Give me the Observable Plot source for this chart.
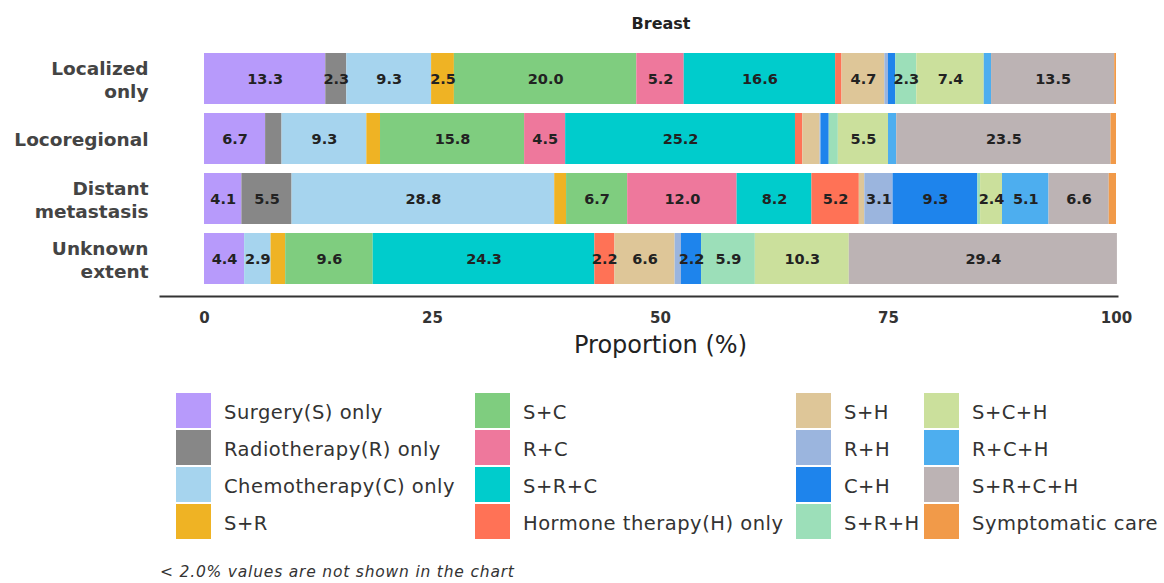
<!DOCTYPE html>
<html><head><meta charset="utf-8">
<script src="https://cdn.jsdelivr.net/npm/d3@7"></script>
<script src="https://cdn.jsdelivr.net/npm/@observablehq/plot@0.6"></script>
<style>
body{margin:0;background:#fff;font-family:"DejaVu Sans",sans-serif;width:1164px;height:583px;position:relative;overflow:hidden}
#title{position:absolute;left:661px;top:14px;transform:translateX(-50%);font-weight:bold;font-size:16px;color:#222}
#chart{position:absolute;left:0;top:40px}
.leg{position:absolute;display:flex;align-items:center;font-size:19.5px;letter-spacing:0.5px;color:#333;white-space:nowrap}
.sw{width:35px;height:35px;flex:none}
#note{position:absolute;left:160px;top:563px;font-style:italic;font-size:15.5px;letter-spacing:0.8px;color:#333}
</style></head>
<body>
<div id="title">Breast</div>
<div id="chart"></div>
<div id="legend"></div>
<div id="note">&lt; 2.0% values are not shown in the chart</div>
<script>
const stages = ["Localized only","Locoregional","Distant metastasis","Unknown extent"];
const stageLabels = ["Localized\nonly","Locoregional","Distant\nmetastasis","Unknown\nextent"];
const treatments = ["Surgery(S) only","Radiotherapy(R) only","Chemotherapy(C) only","S+R","S+C","R+C","S+R+C","Hormone therapy(H) only","S+H","R+H","C+H","S+R+H","S+C+H","R+C+H","S+R+C+H","Symptomatic care"];
const colors = ["#b79afb","#878787","#a6d4ee","#efb324","#7fcd7f","#ee789c","#00cccc","#ff7256","#dec698","#9bb5de","#1e84ec","#9cdfb9","#cbe09c","#4daeef","#bcb3b4","#f19a49"];
const localized    = [13.3,2.3,9.3,2.5,20.0,5.2,16.6,0.7,4.7,0.4,0.8,2.3,7.4,0.8,13.5,0.2];
const locoregional = [6.7,1.8,9.3,1.5,15.8,4.5,25.2,0.8,1.9,0.1,0.9,1.0,5.5,0.9,23.5,0.6];
const distant      = [4.1,5.5,28.8,1.3,6.7,12.0,8.2,5.2,0.6,3.1,9.3,0.3,2.4,5.1,6.6,0.8];
const unknown      = [4.4,0,2.9,1.6,9.6,0,24.3,2.2,6.6,0.7,2.2,5.9,10.3,0,29.4,0];
const xTicks = [0,25,50,75,100];

const series = [localized, locoregional, distant, unknown];
const data = [];
stages.forEach((s, i) => treatments.forEach((t, j) => data.push({stage: s, treatment: t, value: series[i][j]})));

const chart = Plot.plot({
  width: 1164, height: 330,
  marginLeft: 160, marginRight: 47, marginTop: 8, marginBottom: 74,
  style: {fontFamily: "DejaVu Sans, sans-serif", background: "#fff"},
  x: {domain: [0,100], range: [204,1116]},
  y: {domain: stages, range: [7.5,249.5], paddingInner: 0.15, paddingOuter: 0.075, axis: null},
  color: {domain: treatments, range: colors},
  marks: [
    Plot.barX(data, Plot.stackX({x: "value", y: "stage", fill: "treatment"})),
    Plot.text(data, Plot.stackX({x: "value", y: "stage", z: "treatment",
      text: d => d.value >= 2 ? d.value.toFixed(1) : null,
      fill: "#222", fontWeight: "bold", fontSize: 14.5})),
    Plot.text(stages, {y: d => d, text: (d, i) => stageLabels[i], frameAnchor: "left", textAnchor: "end",
      dx: -12, fontSize: 18.5, fontWeight: "bold", fill: "#444", lineHeight: 1.25}),
    Plot.frame({anchor: "bottom", stroke: "#333", strokeWidth: 2}),
    Plot.axisX({ticks: xTicks, tickSize: 0, tickPadding: 16, fontSize: 15, fontWeight: "bold", fill: "#333", label: null}),
    Plot.text(["Proportion (%)"], {x: [50], frameAnchor: "bottom", dy: 56, fontSize: 24, fill: "#222"})
  ]
});
document.getElementById("chart").appendChild(chart);

const colX = [176, 475, 796, 924];
const legend = document.getElementById("legend");
treatments.forEach((t, k) => {
  const col = Math.floor(k / 4), row = k % 4;
  const el = document.createElement("div");
  el.className = "leg";
  el.style.left = colX[col] + "px";
  el.style.top = (393 + row * 37) + "px";
  el.innerHTML = `<div class="sw" style="background:${colors[k]}"></div><span style="margin-left:13px;padding-top:4px">${t}</span>`;
  legend.appendChild(el);
});
</script>
</body></html>
